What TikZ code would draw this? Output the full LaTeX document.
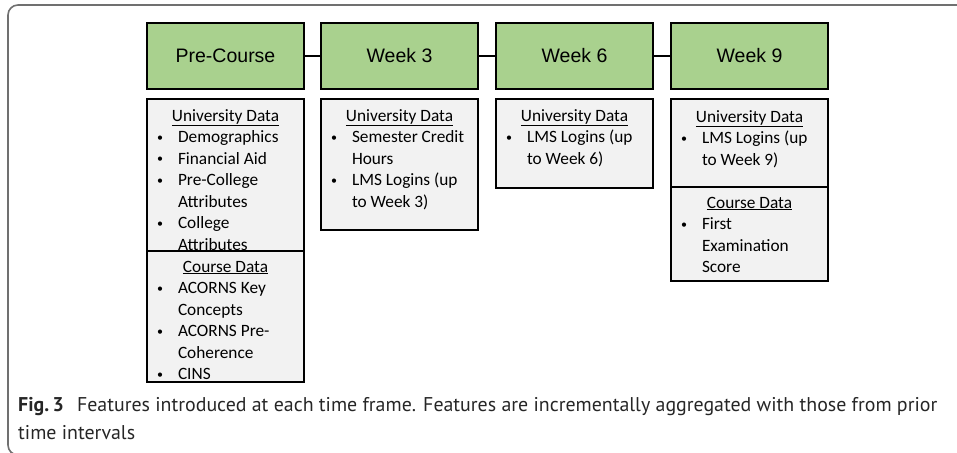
\documentclass[tikz,border=0pt]{standalone}
\usepackage{fontspec}
\setmainfont{Carlito}
\newfontfamily\arialf{Liberation Sans}
\newfontfamily\capf{PT Sans}
\definecolor{gfill}{HTML}{A9D18E}
\definecolor{gyfill}{HTML}{F2F2F2}
\definecolor{framec}{HTML}{707070}
\newlength\bw \setlength\bw{157pt}
\newcommand\hd[1]{\strut\makebox[\bw][c]{\underline{#1}}}
\newcommand\bl[1]{\makebox[31pt][l]{\hspace{10pt}\raisebox{1.5pt}{\fontsize{12}{12}\selectfont\textbullet}}#1}
\newcommand\cl[1]{\hspace{31pt}#1}
\tikzset{
  gbox/.style={draw=black, fill=gfill, line width=1.8pt, minimum width=157pt, minimum height=66pt, inner sep=0pt, outer sep=0pt, font=\arialf\fontsize{19.5}{23}\selectfont},
  gybox/.style={draw=black, fill=gyfill, line width=1.6pt, minimum width=157pt, inner sep=0pt, outer sep=0pt},
  txt/.style={anchor=north west, inner sep=0pt, outer sep=0pt, align=left, font=\fontsize{17.3}{21.5}\selectfont},
  link/.style={line width=1.8pt, black}
}
\begin{document}
\begin{tikzpicture}[x=1pt,y=-1pt]
\useasboundingbox (0,0) rectangle (957,452);
\begin{scope}
\clip (0,0) rectangle (957,452);
\draw[framec, line width=1.6pt, rounded corners=10pt] (1000,5) -- (8,5) -- (8,455) -- (1000,455);
\end{scope}
% green headers
\node[gbox] (pc) at (225.5,56) {Pre-Course};
\node[gbox] (w3) at (399.5,56) {Week 3};
\node[gbox] (w6) at (574.5,56) {Week 6};
\node[gbox] (w9) at (749.5,56) {Week 9};
\draw[link] (pc) -- (w3);
\draw[link] (w3) -- (w6);
\draw[link] (w6) -- (w9);
% grey boxes
\node[gybox, minimum height=152pt] (pcu) at (225.5,175) {};
\node[gybox, minimum height=131pt] (pcc) at (225.5,316.5) {};
\node[gybox, minimum height=131pt] (w3u) at (399.5,164.5) {};
\node[gybox, minimum height=89pt] (w6u) at (574.5,143.5) {};
\node[gybox, minimum height=88pt] (w9u) at (749.5,143) {};
\node[gybox, minimum height=94pt] (w9c) at (749.5,234) {};
% texts
\node[txt] (pcut) at ([yshift=-7pt]pcu.north west) {\hd{University Data}\\ \bl{Demographics}\\ \bl{Financial Aid}\\ \bl{Pre-College}\\ \cl{Attributes}\\ \bl{College}\\ \cl{Attributes}};
\node[txt] (pcct) at ([yshift=-6pt]pcc.north west) {\hd{Course Data}\\ \bl{ACORNS Key}\\ \cl{Concepts}\\ \bl{ACORNS Pre-}\\ \cl{Coherence}\\ \bl{CINS}};
\node[txt] (w3ut) at ([yshift=-7pt]w3u.north west) {\hd{University Data}\\ \bl{Semester Credit}\\ \cl{Hours}\\ \bl{LMS Logins (up}\\ \cl{to Week 3)}};
\node[txt] (w6ut) at ([yshift=-7pt]w6u.north west) {\hd{University Data}\\ \bl{LMS Logins (up}\\ \cl{to Week 6)}};
\node[txt] (w9ut) at ([yshift=-8pt]w9u.north west) {\hd{University Data}\\ \bl{LMS Logins (up}\\ \cl{to Week 9)}};
\node[txt] (w9ct) at ([yshift=-6pt]w9c.north west) {\hd{Course Data}\\ \bl{First}\\ \cl{Examination}\\ \cl{Score}};
% caption
\node[anchor=base west, inner sep=0pt, align=left, font=\capf\fontsize{19.9}{28}\selectfont, text=black!85] (cap) at (18,439) {\textbf{Fig.\,3}\hspace{0.4em} Features introduced at each time frame. Features are incrementally aggregated with those from prior\\ time intervals};
\end{tikzpicture}
\end{document}
